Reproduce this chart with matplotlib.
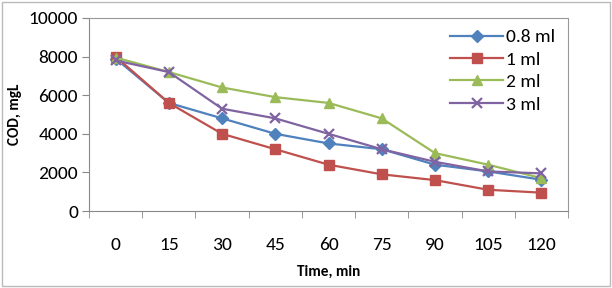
import matplotlib.pyplot as plt
import numpy as np

# COD removal over time for different doses
time_labels = ["0", "15", "30", "45", "60", "75", "90", "105", "120"]
cod_08ml = [7900, 5600, 4800, 4000, 3500, 3200, 2400, 2050, 1620]
cod_1ml = [8000, 5600, 4000, 3200, 2400, 1900, 1600, 1100, 950]
cod_2ml = [7950, 7200, 6400, 5900, 5600, 4800, 3000, 2400, 1700]
cod_3ml = [7800, 7200, 5300, 4800, 4000, 3200, 2550, 2050, 1950]

font = "Carlito"

fig = plt.figure(figsize=(6.12, 2.88), dpi=100)
ax = fig.add_axes([89 / 612, 1 - 211 / 288, 479 / 612, 193 / 288])

x = np.arange(len(time_labels))
ax.plot(x, cod_08ml, color="#4F81BD", marker="D", ms=6.5, lw=1.6, label="0.8 ml")
ax.plot(x, cod_1ml, color="#C0504D", marker="s", ms=7.5, lw=1.6, label="1 ml")
ax.plot(x, cod_2ml, color="#9BBB59", marker="^", ms=7.5, lw=1.6, label="2 ml")
ax.plot(x, cod_3ml, color="#8064A2", marker="x", ms=7.5, mew=1.6, lw=1.6, label="3 ml")

ax.set_xlim(-0.5, len(time_labels) - 0.5)
ax.set_ylim(0, 10000)
ax.set_yticks(range(0, 10001, 2000))
ax.set_yticklabels([str(v) for v in range(0, 10001, 2000)], fontfamily=font, fontsize=14)
ax.set_xticks(x)
ax.set_xticklabels(time_labels, fontfamily=font, fontsize=14)
ax.set_xticks(np.arange(-0.5, len(time_labels)), minor=True)
ax.tick_params(axis="x", which="major", length=0, pad=19)
ax.tick_params(axis="x", which="minor", length=5, color="#888888")
ax.tick_params(axis="y", length=5, color="#888888", pad=3)

for side in ["left", "bottom"]:
    ax.spines[side].set_color("#888888")
for side in ["top", "right"]:
    ax.spines[side].set_color("#999999")
    ax.spines[side].set_linestyle((0, (1, 1)))
    ax.spines[side].set_linewidth(0.8)

ax.set_ylabel("COD, mgL", fontfamily=font, fontsize=11, fontweight="bold", labelpad=5)
ax.set_xlabel("Time, min", fontfamily=font, fontsize=11, fontweight="bold", labelpad=8)

ax.legend(loc="upper right", bbox_to_anchor=(0.995, 1.0), frameon=False,
          prop={"family": font, "size": 14}, handlelength=2.7, handletextpad=0.15,
          labelspacing=0.3, borderaxespad=0.15)

# light frame around the whole figure
fig.patches.append(plt.Rectangle((0.004, 0.006), 0.992, 0.988, transform=fig.transFigure,
                                 fill=False, edgecolor="#BBBBBB", lw=1.0))

fig.savefig("out.png", dpi=100)
